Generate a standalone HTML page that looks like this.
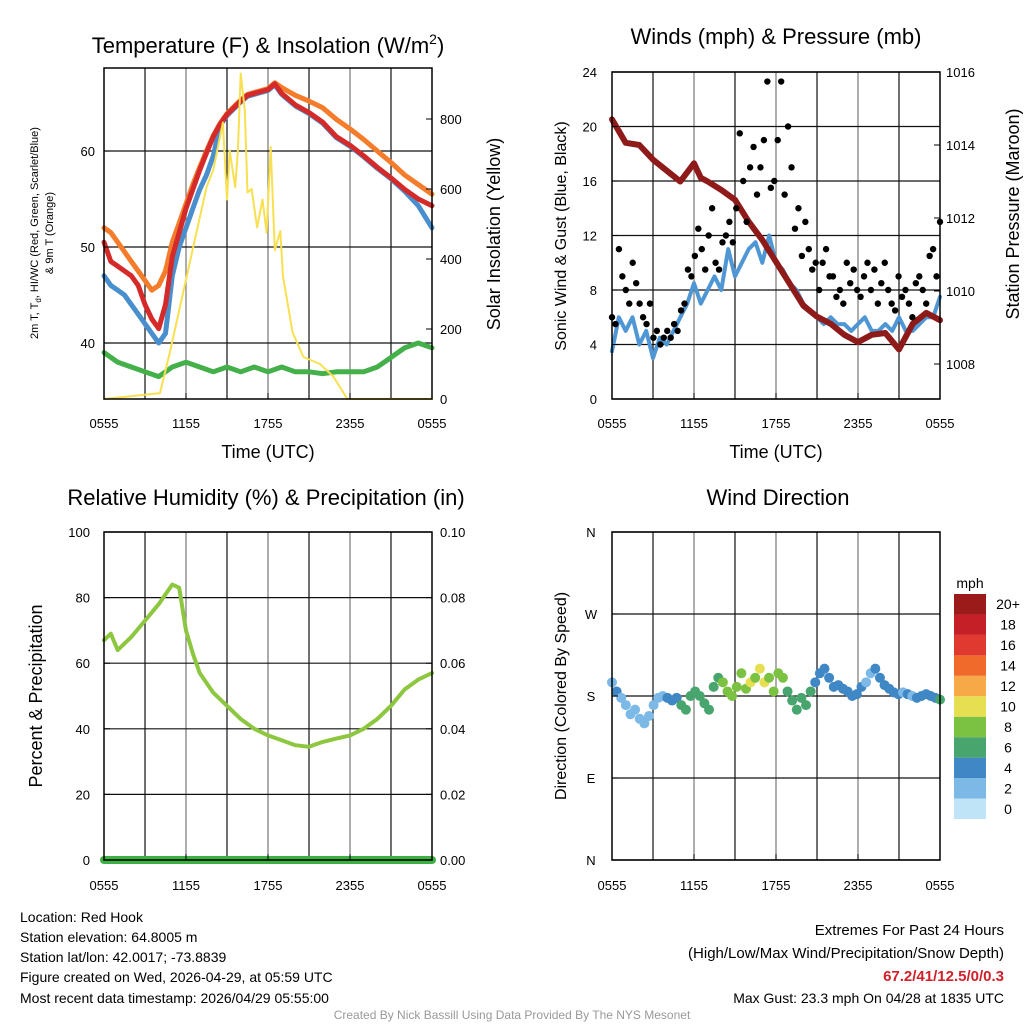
<!DOCTYPE html>
<html><head><meta charset="utf-8">
<style>
html,body{margin:0;padding:0;background:#fff;}
svg{display:block;font-family:"Liberation Sans",sans-serif;}
</style></head>
<body>
<svg id="chart" width="1024" height="1024" viewBox="0 0 1024 1024">
<rect width="1024" height="1024" fill="#fff"/>
<g id="grid"></g>
<g id="marks"></g>
<g id="frames"></g>
<g id="texts" fill="#000">
<text x="268" y="53" font-size="22" text-anchor="middle">Temperature (F) &amp; Insolation (W/m<tspan font-size="14" dy="-9">2</tspan><tspan dy="9">)</tspan></text>
<text x="776" y="44" font-size="22" text-anchor="middle">Winds (mph) &amp; Pressure (mb)</text>
<text x="266" y="505" font-size="22" text-anchor="middle">Relative Humidity (%) &amp; Precipitation (in)</text>
<text x="778" y="505" font-size="22" text-anchor="middle">Wind Direction</text>
<text x="268" y="458" font-size="18" text-anchor="middle">Time (UTC)</text>
<text x="776" y="458" font-size="18" text-anchor="middle">Time (UTC)</text>
<text transform="translate(38,233) rotate(-90)" font-size="11" text-anchor="middle">2m T, T<tspan font-size="8" dy="3">d</tspan><tspan dy="-3">, HI/WC (Red, Green, Scarlet/Blue)</tspan></text>
<text transform="translate(53,233) rotate(-90)" font-size="11" text-anchor="middle">&amp; 9m T (Orange)</text>
<text transform="translate(500,234) rotate(-90)" font-size="18" text-anchor="middle">Solar Insolation (Yellow)</text>
<text transform="translate(566,236) rotate(-90)" font-size="16" text-anchor="middle">Sonic Wind &amp; Gust (Blue, Black)</text>
<text transform="translate(1019,214) rotate(-90)" font-size="18" text-anchor="middle">Station Pressure (Maroon)</text>
<text transform="translate(42,696) rotate(-90)" font-size="18" text-anchor="middle">Percent &amp; Precipitation</text>
<text transform="translate(566,696) rotate(-90)" font-size="16" text-anchor="middle">Direction (Colored By Speed)</text>
<text x="970" y="588" font-size="14" text-anchor="middle">mph</text>
<g font-size="14">
<text x="20" y="922">Location: Red Hook</text>
<text x="20" y="942">Station elevation: 64.8005 m</text>
<text x="20" y="962">Station lat/lon: 42.0017; -73.8839</text>
<text x="20" y="982">Figure created on Wed, 2026-04-29, at 05:59 UTC</text>
<text x="20" y="1003">Most recent data timestamp: 2026/04/29 05:55:00</text>
</g>
<g font-size="15" text-anchor="end">
<text x="1004" y="935">Extremes For Past 24 Hours</text>
<text x="1004" y="958">(High/Low/Max Wind/Precipitation/Snow Depth)</text>
<text x="1004" y="981" fill="#d0202a" font-weight="bold">67.2/41/12.5/0/0.3</text>
<text x="1004" y="1003" font-size="14">Max Gust: 23.3 mph On 04/28 at 1835 UTC</text>
</g>
<text x="512" y="1019" font-size="12" fill="#999" text-anchor="middle">Created By Nick Bassill Using Data Provided By The NYS Mesonet</text>
</g>
</svg>
<script>
// ---- data ----
const tempTimes = [0,0.5,1,1.5,2,2.5,3,3.5,4,4.5,5,5.5,6,6.5,7,7.5,8,8.5,9,9.5,10,10.5,11,11.5,12,12.5,13,14,15,16,17,18,19,20,21,22,23,24];
const temp2m = [50.5,48.5,48,47.5,47,46,44,42.5,41.5,44,49,51.5,54,56,58,59.8,61.5,62.8,63.8,64.5,65.2,65.8,66,66.2,66.4,67,66,64.8,64,63,61.5,60.6,59.5,58.3,57.2,56,55,54.3];
const temp9m = [52,51.5,50.5,49.5,48.5,47.5,46.5,45.5,46,47.5,50.5,52.5,54.5,56.5,58.3,60,61.6,62.9,63.9,64.6,65.3,65.9,66.1,66.3,66.5,67.1,66.6,65.8,65.2,64.5,63.3,62.3,61.2,60,58.8,57.5,56.5,55.5];
const windChill = [47,46,45.5,45,44,43,42,41,40,41,47,50,52,54,56,57.5,59.5,62.7,63.7,64.4,65.1,65.7,65.9,66.1,66.3,66.9,65.9,64.7,63.9,62.9,61.4,60.5,59.4,58.2,57.1,55.8,54.3,52];
const dewTimes = [0,1,2,3,4,5,6,7,8,9,10,11,12,13,14,15,16,17,18,19,20,21,22,23,24];
const dewPoint = [39,38,37.5,37,36.5,37.5,38,37.5,37,37.5,37,37.5,37,37.5,37,37,36.8,37,37,37,37.5,38.5,39.5,40,39.5];
const insolTimes = [0,4.1,4.8,7.5,8,8.7,9,9.2,9.6,9.8,10,10.3,10.5,10.8,11.2,11.6,11.9,12.2,12.5,12.9,13.1,13.8,14.6,15.8,16.8,17.8,24];
const insolValues = [0,17,130,605,655,790,570,710,605,710,930,825,590,600,490,570,475,720,425,480,350,190,120,100,63,0,0];
const windTimes = [0,0.5,1,1.5,2,2.5,3,3.5,4,4.5,5,5.5,6,6.5,7,7.5,8,8.5,9,9.5,10,10.5,11,11.5,12,12.5,13,13.5,14,14.5,15,15.5,16,16.5,17,17.5,18,18.5,19,19.5,20,20.5,21,21.5,22,22.5,23,23.5,24];
const windSpeed = [3.5,6,5,6,4,5,3,4.5,4,5,6,7,8.5,7,8,9,8,11,9,10,11,11.5,10,12,10,9.5,8.5,8,7,6.5,6,5.5,6,5.5,5.5,5,5.5,6,5,5,5.5,5,6,5,5,5.5,6,6,7.5];
const gustValues = [6,5.5,11,9, 8,7,10,8.5, 7,6,5.5,7, 4.5,5,4,4.5, 5,4.5,5.5,5, 6.5,7,9.5,9, 10.5,12.5,11,9.5, 12,14,10,9.5, 11.5,12,13,11.5, 14,19.5,16,13, 17,18.5,15,17, 19,23.3,15.5,16, 19,23.3,15,20, 17,12.5,14,10.5, 13,11,9.5,10, 8,10,11,9, 9,7.5,8,7, 10,8.5,9.5,8, 7.5,9,10,8, 9.5,7,8.5,10, 8,7,6.5,9, 7.5,8,7,6, 8.5,9,8,7, 10.5,11,9,13];
const presTimes = [0,1,2,3,4,5,6,6.5,7,8,9,10,11,12,13,14,15,16,17,18,19,20,21,22,23,24];
const pressure = [1014.7,1014.06,1014,1013.6,1013.3,1013,1013.5,1013.1,1013,1012.77,1012.5,1011.9,1011.4,1010.8,1010.2,1009.6,1009.3,1009.1,1008.8,1008.6,1008.8,1008.85,1008.4,1009.1,1009.4,1009.2];
const rhTimes = [0,0.5,1,2,3,4,5,5.5,6,6.5,7,8,9,10,11,12,13,14,15,16,17,18,19,20,21,22,23,24];
const rhValues = [67,69,64,68,73,78,84,83,70,63,57,51,47,43,40,38,36.5,35,34.5,36,37,38,40,43,47,52,55,57];
const precipValues = [0,0];
const dirValues = [195,185,178,170,160,165,155,150,158, 170,178,180,178,175,178,170,165,180, 185,180,172,165,190,200,195,185,180, 190,205,188,195,200,210,195,200,185, 205,200,185,175,165,178,170,185,195, 205,210,200,190,192,188,185,180,182, 190,195,205,210,200,192,188,184,182, 184,182,180,178,180,182,180,178,176];
const dirSpeeds = [3,4,3.5,3,3.5,2.5,3,2,3, 2,3,3,4,5,5,6,6.5,7, 6.5,7,6,7,7.5,7,8,9,9, 9,9.5,8.5,10,9,10.5,10,9,8.5, 9,8,7.5,7,7.5,6,6.5,7,5, 4.5,5,4,5,5,4.5,5,4.5,5, 4,3.5,3,4,5,4.5,5,4,4, 3.5,4,3.5,4,4.5,5,4.5,5,6];
const xTickLabels = ["0555","1155","1755","2355","0555"];
const tempTicks = [40,50,60];
const insolTicks = [0,200,400,600,800];
const windTicks = [0,4,8,12,16,20,24];
const presTicks = [1008,1010,1012,1014,1016];
const rhTicks = [0,20,40,60,80,100];
const precipTicks = ["0.00","0.02","0.04","0.06","0.08","0.10"];
const dirTicks = ["N","E","S","W","N"];
const cbLabels = ["0","2","4","6","8","10","12","14","16","18","20+"];
const cbColors = ["#c0e4f7","#7cb9e6","#3f87c5","#47a56d","#7cc242","#e6df52","#f8a947","#ef6a2b","#e0392f","#c51f27","#9b1a1a"];

// ---- scales ----
const HR = 328/24;
const p1x = t => 104 + t*HR, p1y = v => 151 + (60-v)*9.6, p1r = w => 399 - w*0.35;
const p2x = t => 612 + t*HR, p2y = m => 399 - m*13.625, p2r = p => 72 + (1016-p)*36.5;
const p3x = t => 104 + t*HR, p3y = v => 860 - v*3.28, p3r = p => 860 - p*3280;
const p4x = t => 612 + t*HR, p4y = d => 860 - d*0.91111;

const NS = "http://www.w3.org/2000/svg";
const G = document.getElementById("grid"), M = document.getElementById("marks"), F = document.getElementById("frames"), T = document.getElementById("texts");
function mk(tag, parent, attrs){ const e = document.createElementNS(NS, tag); for (const k in attrs) e.setAttribute(k, attrs[k]); parent.appendChild(e); return e; }
function txt(parent, x, y, s, anchor, size){ const e = mk("text", parent, {x:x, y:y, "font-size":size||13, "text-anchor":anchor}); e.textContent = s; return e; }
function poly(xs, ys, fx, fy, color, w){
  let d = "";
  for (let i=0;i<xs.length;i++) d += (i?"L":"M") + fx(xs[i]).toFixed(1) + "," + fy(ys[i]).toFixed(1);
  return mk("path", M, {d:d, fill:"none", stroke:color, "stroke-width":w, "stroke-linejoin":"round", "stroke-linecap":"round"});
}

// ---- panels: frames, grids, ticks ----
const panels = [{x0:104,y0:68,x1:432,y1:399},{x0:612,y0:72,x1:940,y1:399},{x0:104,y0:532,x1:432,y1:860},{x0:612,y0:532,x1:940,y1:860}];
panels.forEach((p, pi) => {
  for (let h=3; h<24; h+=3){
    const ln = mk("line", G, {x1:p.x0+h*HR, x2:p.x0+h*HR, y1:p.y0, y2:p.y1, stroke:(h%6==0)?"#777":"#111", "stroke-width":1.2});
    
    
  }
  const fr = mk("rect", F, {x:p.x0, y:p.y0, width:p.x1-p.x0, height:p.y1-p.y0, fill:"none", stroke:"#000", "stroke-width":1.5});
  
  
  const lblY = (pi<2) ? 428 : 890;
  xTickLabels.forEach((s,i) => {
    const tx = p.x0 + i*6*HR;
    mk("line", F, {x1:tx, x2:tx, y1:p.y1, y2:p.y1-6, stroke:"#000"});
    const e = txt(T, tx, lblY, s, "middle", 13);
    
    
  });
});
function hgrid(p, y){ const l = mk("line", G, {x1:p.x0, x2:p.x1, y1:y, y2:y, stroke:"#111", "stroke-width":1.2});   }
function ytick(x, y, dir){ mk("line", F, {x1:x, x2:x+dir*6, y1:y, y2:y, stroke:"#000"}); }
tempTicks.forEach(v => { hgrid(panels[0], p1y(v)); ytick(104, p1y(v), 1); const e = txt(T, 95, p1y(v)+5, String(v), "end");   });
insolTicks.forEach(v => { ytick(432, p1r(v), -1); const e = txt(T, 440, p1r(v)+5, String(v), "start");   });
windTicks.forEach(v => { hgrid(panels[1], p2y(v)); ytick(612, p2y(v), 1); const e = txt(T, 597, p2y(v)+5, String(v), "end");   });
presTicks.forEach(v => { ytick(940, p2r(v), -1); const e = txt(T, 946, p2r(v)+5, String(v), "start");   });
rhTicks.forEach(v => { hgrid(panels[2], p3y(v)); ytick(104, p3y(v), 1); const e = txt(T, 90, p3y(v)+5, String(v), "end");   });
precipTicks.forEach(s => { const y = p3r(parseFloat(s)); ytick(432, y, -1); const e = txt(T, 440, y+5, s, "start");   });
dirTicks.forEach((s,i) => { const y = p4y(i*90); hgrid(panels[3], y); ytick(612, y, 1); const e = txt(T, 591, y+5, s, "middle");   });

// ---- panel 1 series ----
let s;
s = poly(tempTimes, temp9m, p1x, p1y, "#f47c2a", 5);


s = poly(tempTimes, windChill, p1x, p1y, "#4a8fcd", 5);


s = poly(tempTimes, temp2m, p1x, p1y, "#d42a2a", 5);


s = poly(dewTimes, dewPoint, p1x, p1y, "#43b04a", 5);


s = poly(insolTimes, insolValues, p1x, p1r, "#f8e050", 2);



// ---- panel 2 series ----
s = poly(windTimes, windSpeed, p2x, p2y, "#4f97d4", 4);


s = poly(presTimes, pressure, p2x, p2r, "#8e1a1a", 6);


gustValues.forEach((g,i) => {
  const c = mk("circle", M, {cx:p2x(i*24/(gustValues.length-1)), cy:p2y(g), r:3.2, fill:"#000"});
  
  
});

// ---- panel 3 series ----
s = poly(rhTimes, rhValues, p3x, p3y, "#8dc63f", 4);


s = poly([0,24], precipValues, p3x, p3r, "#3cb043", 8);



// ---- panel 4 series ----
dirValues.forEach((d,i) => {
  const sp = dirSpeeds[i];
  const ci = Math.min(cbColors.length-1, Math.floor(sp/2));
  const c = mk("circle", M, {cx:p4x(i*24/(dirValues.length-1)), cy:p4y(d), r:5, fill:cbColors[ci]});
  
  
});

// ---- colorbar ----
const cbTop = 594, cbH = 225/cbColors.length;
cbColors.forEach((col,i) => {
  const y = cbTop + (cbColors.length-1-i)*cbH;
  const r = mk("rect", F, {x:954, y:y, width:32, height:cbH, fill:col});
  
  
  const e = txt(T, 1008, y+cbH/2+5, cbLabels[i], "middle", 14);
  
  
});
</script>
</body></html>
